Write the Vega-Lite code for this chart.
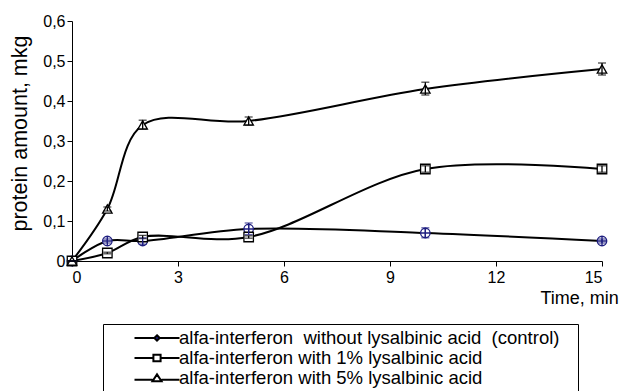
{
  "$schema": "https://vega.github.io/schema/vega-lite/v6.json",
  "width": 530,
  "height": 240,
  "autosize": "none",
  "padding": {"left": 72, "top": 21, "right": 27, "bottom": 130},
  "background": "white",
  "config": {
    "view": {"stroke": null},
    "font": "Liberation Sans",
    "axis": {"grid": false, "domainColor": "black", "tickColor": "black", "labelColor": "black", "titleColor": "black", "labelFont": "Liberation Sans", "titleFont": "Liberation Sans", "titleFontWeight": "normal", "labelFontSize": 16, "domainWidth": 1, "tickWidth": 1, "tickSize": 5}
  },
  "data": {
    "values": [
      {"series": "control", "t": 0, "v": 0, "lo": 0, "hi": 0},
      {"series": "control", "t": 1, "v": 0.05, "lo": 0.045, "hi": 0.055},
      {"series": "control", "t": 2, "v": 0.05, "lo": 0.042, "hi": 0.058},
      {"series": "control", "t": 5, "v": 0.08, "lo": 0.066, "hi": 0.095},
      {"series": "control", "t": 10, "v": 0.07, "lo": 0.058, "hi": 0.083},
      {"series": "control", "t": 15, "v": 0.05, "lo": 0.045, "hi": 0.055},
      {"series": "p1", "t": 0, "v": 0, "lo": 0, "hi": 0},
      {"series": "p1", "t": 1, "v": 0.02, "lo": 0.018, "hi": 0.022},
      {"series": "p1", "t": 2, "v": 0.06, "lo": 0.056, "hi": 0.064},
      {"series": "p1", "t": 5, "v": 0.06, "lo": 0.057, "hi": 0.063},
      {"series": "p1", "t": 10, "v": 0.23, "lo": 0.222, "hi": 0.238},
      {"series": "p1", "t": 15, "v": 0.23, "lo": 0.222, "hi": 0.238},
      {"series": "p5", "t": 0, "v": 0, "lo": 0, "hi": 0},
      {"series": "p5", "t": 1, "v": 0.13, "lo": 0.125, "hi": 0.135},
      {"series": "p5", "t": 2, "v": 0.34, "lo": 0.33, "hi": 0.352},
      {"series": "p5", "t": 5, "v": 0.35, "lo": 0.34, "hi": 0.36},
      {"series": "p5", "t": 10, "v": 0.43, "lo": 0.415, "hi": 0.447},
      {"series": "p5", "t": 15, "v": 0.48, "lo": 0.465, "hi": 0.495}
    ]
  },
  "encoding": {
    "x": {"field": "t", "type": "quantitative", "scale": {"domain": [0, 15], "nice": false},
      "axis": {"values": [0, 3, 6, 9, 12, 15], "labelPadding": 3, "title": "Time, min", "titleFontSize": 18, "titleAlign": "left", "titleBaseline": "middle", "titleX": 468, "titleY": 37, "titleAnchor": null}},
    "y": {"field": "v", "type": "quantitative", "scale": {"domain": [0, 0.6], "nice": false},
      "axis": {"values": [0, 0.1, 0.2, 0.3, 0.4, 0.5, 0.6], "labelExpr": "replace(format(datum.value, '~g'), '.', ',')", "labelPadding": 2, "title": "protein amount, mkg", "titleFontSize": 21.5, "titleX": -52, "titleY": 112, "titleAlign": "center", "titleBaseline": "middle", "titleAngle": -90}}
  },
  "layer": [
    {
      "mark": {"type": "line", "interpolate": "catmull-rom", "strokeWidth": 2},
      "encoding": {
        "color": {"field": "series", "type": "nominal",
          "scale": {"domain": ["control", "p1", "p5"], "range": ["black", "black", "black"]},
          "legend": {
            "orient": "none", "legendX": 31, "legendY": 303,
            "title": "\u2800", "titleOrient": "bottom", "titleFontSize": 18, "titlePadding": 40,
            "labelExpr": "datum.value == 'control' ? 'alfa-interferon \u00a0without lysalbinic acid \u00a0(control)\u2800' : datum.value == 'p1' ? 'alfa-interferon with 1% lysalbinic acid' : 'alfa-interferon with 5% lysalbinic acid'",
            "labelFont": "Liberation Sans", "labelFontSize": 18.5, "labelColor": "black", "labelLimit": 600,
            "symbolSize": 324, "symbolStrokeWidth": 2, "symbolOffset": 40, "labelOffset": 12,
            "padding": 4, "rowPadding": 0, "strokeColor": "black",
            "encode": {
              "symbols": {"update": {
                "shape": {"signal": "datum.value == 'control' ? 'M-2.5,0H-0.3M0.3,0H2.5M0,-0.3L0.3,0L0,0.3L-0.3,0Z' : datum.value == 'p1' ? 'M-2.5,0H-0.4M0.4,0H2.5M-0.4,-0.35H0.4V0.35H-0.4Z' : 'M-2.5,0.2H-0.5M0.5,0.2H2.5M0,-0.4L0.5,0.35H-0.5Z'"},
                "fill": {"signal": "datum.value == 'control' ? '#1f1f80' : 'white'"},
                "stroke": {"value": "black"},
                "strokeWidth": {"value": 2},
                "opacity": {"value": 1}
              }}
            }
          }}
      }
    },
    {
      "mark": {"type": "point", "filled": false, "size": 90, "strokeWidth": 1.3, "opacity": 1},
      "encoding": {
        "shape": {"field": "series", "type": "nominal", "scale": {"domain": ["control", "p1", "p5"], "range": ["M-1,0A1,1 0 1,1 1,0A1,1 0 1,1 -1,0ZM-1,0H1M0,-1V1", "square", "triangle-up"]}, "legend": null},
        "stroke": {"field": "series", "type": "nominal", "scale": {"domain": ["control", "p1", "p5"], "range": ["#1f1f80", "black", "black"]}, "legend": null},
        "fill": {"value": "white"}
      }
    },
    {
      "mark": {"type": "errorbar", "ticks": {"size": 8, "thickness": 1.3}, "rule": {"strokeWidth": 1.3}},
      "encoding": {
        "y": {"field": "lo", "type": "quantitative"},
        "y2": {"field": "hi"},
        "strokeOpacity": {"value": 1},
        "color": {"field": "series", "type": "nominal", "scale": {"domain": ["control", "p1", "p5"], "range": ["#1f1f80", "black", "black"]}, "legend": null}
      }
    }
  ],
  "resolve": {"scale": {"color": "independent"}, "legend": {"color": "independent"}}
}
